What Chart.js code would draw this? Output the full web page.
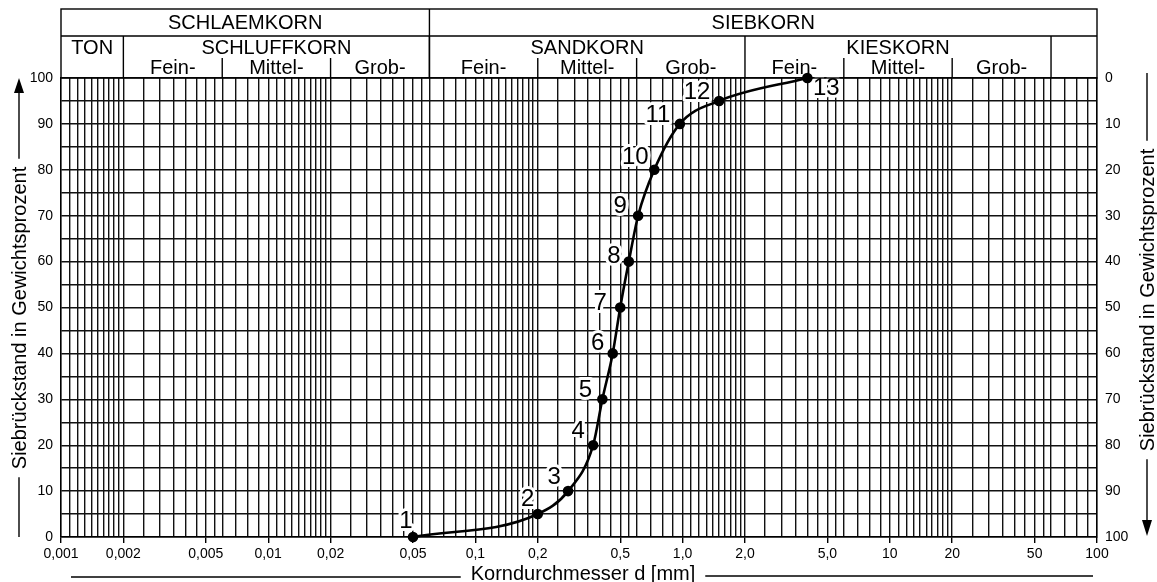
<!DOCTYPE html>
<html>
<head>
<meta charset="utf-8">
<script src="https://cdn.jsdelivr.net/npm/chart.js@4.4.1/dist/chart.umd.min.js"></script>
<style>
  html, body { margin: 0; padding: 0; background: #fff; }
</style>
</head>
<body>
<canvas id="sieblinie" width="1157" height="582"></canvas>
<script>
// Messpunkte der Sieblinie
const nummern = ['1', '2', '3', '4', '5', '6', '7', '8', '9', '10', '11', '12', '13'];
const korndurchmesser = [0.05, 0.2, 0.28, 0.37, 0.41, 0.46, 0.5, 0.55, 0.61, 0.73, 0.97, 1.5, 4.0];
const siebrueckstand = [0, 5, 10, 20, 30, 40, 50, 60, 70, 80, 90, 95, 100];

// Achsenbeschriftung x
const xTickWerte = [0.001, 0.002, 0.005, 0.01, 0.02, 0.05, 0.1, 0.2, 0.5, 1, 2, 5, 10, 20, 50, 100];
const xTickTexte = ['0,001', '0,002', '0,005', '0,01', '0,02', '0,05', '0,1', '0,2', '0,5', '1,0', '2,0', '5,0', '10', '20', '50', '100'];

// Rasterlinien je Dekade
const dekaden = [0.001, 0.01, 0.1, 1, 10];
const teilung = [1, 1.1, 1.2, 1.3, 1.4, 1.5, 1.6, 1.7, 1.8, 1.9, 2, 2.5, 3, 3.5, 4, 4.5, 5, 5.5, 6, 7, 8, 9];

// Kopftabelle
const gruppenOben = ['SCHLAEMKORN', 'SIEBKORN'];
const grenzenOben = [0.001, 0.06, 100];
const gruppenMitte = ['TON', 'SCHLUFFKORN', 'SANDKORN', 'KIESKORN', ''];
const grenzenMitte = [0.001, 0.002, 0.06, 2, 60, 100];
const untergruppen = ['Fein-', 'Mittel-', 'Grob-', 'Fein-', 'Mittel-', 'Grob-', 'Fein-', 'Mittel-', 'Grob-'];
const grenzenUnten = [0.002, 0.006, 0.02, 0.06, 0.2, 0.6, 2, 6, 20, 60];

const achsenTitel = 'Siebrückstand in Gewichtsprozent';
const xTitel = 'Korndurchmesser d [mm]';

let rasterX = [];
dekaden.forEach((d) => {
  teilung.forEach((t) => rasterX.push(d * t));
});
rasterX.push(100);

const schrift = '"Liberation Sans", Arial, sans-serif';

function istBeschriftet(v) {
  return xTickWerte.findIndex(w => Math.abs(w - v) / w < 1e-6);
}

// Nummern neben den Punkten (Versatz in px)
const versatz = [[-7, -16], [-10, -15], [-14, -14], [-15, -14], [-17, -9], [-15, -10], [-20, -4],
  [-15, -5], [-18, -9], [-19, -12], [-22, -9], [-22, -9], [19, 10]];

const nummernPlugin = {
  id: 'nummern',
  beforeDatasetsDraw(chart) {
    const ctx = chart.ctx;
    const meta = chart.getDatasetMeta(0);
    ctx.save();
    ctx.font = '24px ' + schrift;
    ctx.textAlign = 'center';
    ctx.textBaseline = 'middle';
    meta.data.forEach((p, i) => {
      const x = p.x + versatz[i][0];
      const y = p.y + versatz[i][1];
      ctx.lineWidth = 6;
      ctx.strokeStyle = '#fff';
      ctx.lineJoin = 'round';
      ctx.strokeText(nummern[i], x, y);
      ctx.fillStyle = '#000';
      ctx.fillText(nummern[i], x, y);
    });
    ctx.restore();
  }
};

function strich(ctx, x1, y1, x2, y2) {
  ctx.beginPath();
  ctx.moveTo(x1, y1);
  ctx.lineTo(x2, y2);
  ctx.stroke();
}

const kopfPlugin = {
  id: 'kopf',
  afterDraw(chart) {
    const ctx = chart.ctx;
    const a = chart.chartArea;
    const px = v => chart.scales.x.getPixelForValue(v);
    const oben = 9, mitte = 36, unten = 58, boden = a.top;
    ctx.save();
    ctx.strokeStyle = '#000';
    ctx.fillStyle = '#000';
    ctx.lineWidth = 1.4;
    ctx.strokeRect(a.left, oben, a.right - a.left, boden - oben);
    strich(ctx, a.left, mitte, a.right, mitte);
    strich(ctx, px(0.06), oben, px(0.06), boden);
    grenzenMitte.slice(1, -1).forEach(g => strich(ctx, px(g), mitte, px(g), boden));
    [0.006, 0.02, 0.2, 0.6, 6, 20].forEach(g => strich(ctx, px(g), unten, px(g), boden));

    ctx.font = '20px ' + schrift;
    ctx.textAlign = 'center';
    ctx.textBaseline = 'middle';
    gruppenOben.forEach((t, i) => {
      ctx.fillText(t, (px(grenzenOben[i]) + px(grenzenOben[i + 1])) / 2, 23);
    });
    gruppenMitte.forEach((t, i) => {
      ctx.fillText(t, (px(grenzenMitte[i]) + px(grenzenMitte[i + 1])) / 2, 48);
    });
    untergruppen.forEach((t, i) => {
      ctx.fillText(t, (px(grenzenUnten[i]) + px(grenzenUnten[i + 1])) / 2, 68);
    });

    // linker Achsentitel mit Pfeil nach oben
    const w = ctx.measureText(achsenTitel).width;
    let cx = 19, cy = 318;
    ctx.save();
    ctx.translate(cx, cy);
    ctx.rotate(-Math.PI / 2);
    ctx.fillText(achsenTitel, 0, 1);
    ctx.restore();
    strich(ctx, cx, cy + w / 2 + 8, cx, a.bottom);
    strich(ctx, cx, cy - w / 2 - 8, cx, 90);
    ctx.beginPath();
    ctx.moveTo(cx, a.top);
    ctx.lineTo(cx - 5, a.top + 15);
    ctx.lineTo(cx + 5, a.top + 15);
    ctx.closePath();
    ctx.fill();

    // rechter Achsentitel mit Pfeil nach unten
    cx = 1147; cy = 300;
    ctx.save();
    ctx.translate(cx, cy);
    ctx.rotate(-Math.PI / 2);
    ctx.fillText(achsenTitel, 0, 1);
    ctx.restore();
    strich(ctx, cx, 73, cx, cy - w / 2 - 8);
    strich(ctx, cx, cy + w / 2 + 8, cx, 522);
    ctx.beginPath();
    ctx.moveTo(cx, 536);
    ctx.lineTo(cx - 5, 520);
    ctx.lineTo(cx + 5, 520);
    ctx.closePath();
    ctx.fill();

    // x-Titel mit Linien
    const wx = ctx.measureText(xTitel).width;
    const mx = 583;
    ctx.fillText(xTitel, mx, 574);
    strich(ctx, 71, 577, mx - wx / 2 - 10, 577);
    strich(ctx, mx + wx / 2 + 10, 576, 1093, 576);
    ctx.restore();
  }
};

new Chart(document.getElementById('sieblinie'), {
  type: 'scatter',
  data: {
    datasets: [{
      label: 'Sieblinie',
      data: korndurchmesser.map((d, i) => ({ x: d, y: siebrueckstand[i] })),
      showLine: true,
      borderColor: '#000',
      backgroundColor: '#000',
      borderWidth: 2.6,
      pointRadius: 4,
      pointHoverRadius: 4,
      cubicInterpolationMode: 'monotone',
      clip: false
    }]
  },
  options: {
    responsive: false,
    animation: false,
    devicePixelRatio: 1,
    layout: { padding: { top: 78, left: 0, right: 0, bottom: 0 } },
    plugins: {
      legend: { display: false },
      tooltip: { enabled: false }
    },
    scales: {
      x: {
        type: 'logarithmic',
        min: 0.001,
        max: 100,
        afterBuildTicks: (axis) => {
          axis.ticks = rasterX.map(v => ({ value: v }));
        },
        afterFit: (axis) => { axis.height = 45; },
        ticks: {
          autoSkip: false,
          maxRotation: 0,
          padding: 3,
          color: '#000',
          font: { family: schrift, size: 14 },
          callback: (v) => {
            const i = istBeschriftet(v);
            return i >= 0 ? xTickTexte[i] : '';
          }
        },
        grid: {
          color: '#111',
          lineWidth: 1.4,
          tickLength: 6,
          tickColor: (c) => (c.tick && istBeschriftet(c.tick.value) >= 0) ? '#000' : 'rgba(0,0,0,0)'
        },
        border: { display: true, color: '#000', width: 1.4 }
      },
      y: {
        position: 'left',
        min: 0,
        max: 100,
        afterFit: (axis) => { axis.width = 61; },
        ticks: {
          stepSize: 5,
          padding: 8,
          color: '#000',
          font: { family: schrift, size: 14 },
          callback: (v) => v % 10 === 0 ? String(v) : ''
        },
        grid: { color: '#111', lineWidth: 1.4, drawTicks: false },
        border: { display: true, color: '#000', width: 1.4 }
      },
      y2: {
        position: 'right',
        min: 0,
        max: 100,
        afterFit: (axis) => { axis.width = 60; },
        ticks: {
          stepSize: 5,
          padding: 8,
          color: '#000',
          font: { family: schrift, size: 14 },
          callback: (v) => v % 10 === 0 ? String(100 - v) : ''
        },
        grid: { drawOnChartArea: false, drawTicks: false },
        border: { display: true, color: '#000', width: 1.4 }
      }
    }
  },
  plugins: [nummernPlugin, kopfPlugin]
});
</script>
</body>
</html>
